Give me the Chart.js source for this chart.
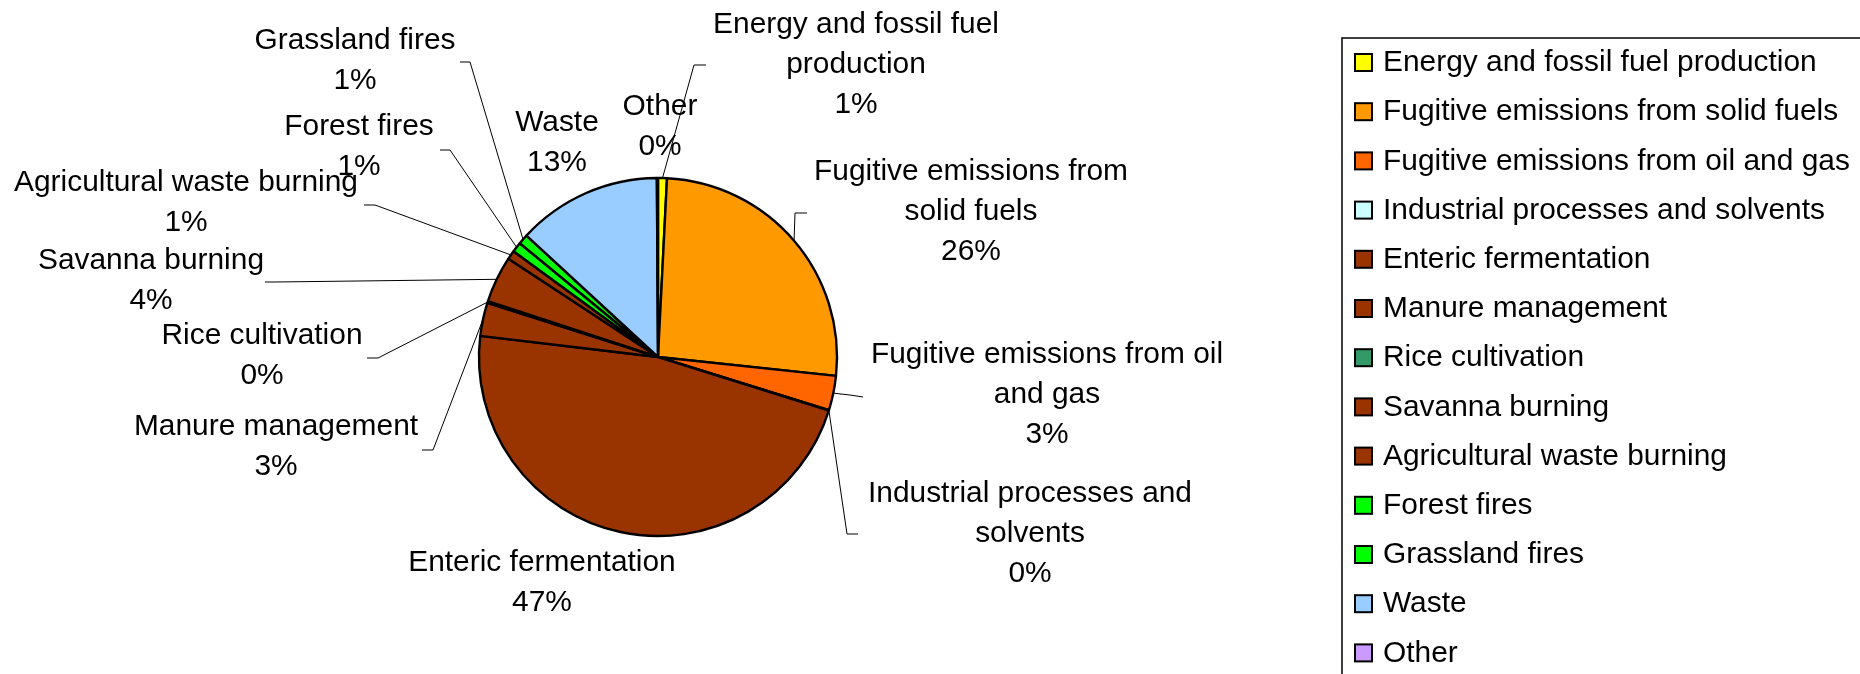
<!DOCTYPE html>
<html>
<head>
<meta charset="utf-8">
<script src="https://cdn.jsdelivr.net/npm/chart.js@4/dist/chart.umd.min.js"></script>
<style>
  html, body { margin: 0; padding: 0; background: #ffffff; }
  #wrap { width: 1860px; height: 674px; position: relative; }
</style>
</head>
<body>
<div id="wrap"><canvas id="c" width="1860" height="674"></canvas></div>
<script>
// ---- data ----
const categories = [
  "Energy and fossil fuel production",
  "Fugitive emissions from solid fuels",
  "Fugitive emissions from oil and gas",
  "Industrial processes and solvents",
  "Enteric fermentation",
  "Manure management",
  "Rice cultivation",
  "Savanna burning",
  "Agricultural waste burning",
  "Forest fires",
  "Grassland fires",
  "Waste",
  "Other"
];
const shares = [0.8, 25.8, 3.1, 0.05, 46.9, 3.0, 0.15, 4.2, 0.8, 0.9, 0.9, 13.0, 0.1];
const sliceColors = [
  "#FFFF00", "#FF9900", "#FF6600", "#CCFFFF", "#993300", "#993300", "#339966",
  "#993300", "#993300", "#00FF00", "#00FF00", "#99CCFF", "#CC99FF"
];

// ---- label layout (offsets from pie centre, px) ----
const labelOffsets = [
  [198, -292], [313, -145], [389, 38], [372, 177], [-116, 226], [-382, 90],
  [-396, -1], [-507, -76], [-472, -154], [-299, -210], [-303, -296], [-101, -214], [2, -230]
];
const labelWrap = [300, 330, 370, 340, 9999, 9999, 9999, 9999, 9999, 9999, 9999, 9999, 9999];
const leaderPaths = [
  [[36, -292], [48, -292]],
  [[137, -144], [149, -144]],
  [[192, 38], [205, 40]],
  [[189, 177], [200, 177]],
  null,
  [[-225, 93], [-236, 93]],
  [[-280, 1], [-291, 1]],
  [[-383, -75], [-393, -75]],
  [[-283, -152], [-294, -152]],
  [[-208, -207], [-218, -207]],
  [[-188, -295], [-198, -295]],
  null,
  null
];

const FONT = '"Liberation Sans", Arial, sans-serif';
const FS = 29.9;
const LINE_H = 40;

function wrapText(ctx, text, maxW) {
  const words = text.split(' ');
  const lines = [];
  let cur = '';
  for (const w of words) {
    const t = cur ? cur + ' ' + w : w;
    if (ctx.measureText(t).width > maxW && cur) { lines.push(cur); cur = w; }
    else cur = t;
  }
  if (cur) lines.push(cur);
  return lines;
}

const labelPlugin = {
  id: 'pieLabels',
  afterDatasetsDraw(chart) {
    const ctx = chart.ctx;
    const meta = chart.getDatasetMeta(0);
    const vals = chart.data.datasets[0].data;
    const total = vals.reduce((a, b) => a + b, 0);
    ctx.save();
    ctx.font = FS + 'px ' + FONT;
    meta.data.forEach((arc, i) => {
      const p = arc.getProps(['x', 'y', 'startAngle', 'endAngle', 'outerRadius'], true);
      const mid = (p.startAngle + p.endAngle) / 2;
      const path = leaderPaths[i];
      if (path) {
        ctx.beginPath();
        ctx.strokeStyle = '#000';
        ctx.lineWidth = 1;
        ctx.moveTo(p.x + Math.cos(mid) * p.outerRadius, p.y + Math.sin(mid) * p.outerRadius);
        path.forEach(pt => ctx.lineTo(p.x + pt[0], p.y + pt[1]));
        ctx.stroke();
      }
    });
    meta.data.forEach((arc, i) => {
      const p = arc.getProps(['x', 'y'], true);
      const lines = wrapText(ctx, chart.data.labels[i], labelWrap[i]);
      lines.push(Math.round(vals[i] / total * 100) + '%');
      const cx = p.x + labelOffsets[i][0];
      const cy = p.y + labelOffsets[i][1];
      const top = cy - (lines.length - 1) * LINE_H / 2;
      ctx.fillStyle = '#000';
      ctx.textAlign = 'center';
      ctx.textBaseline = 'middle';
      lines.forEach((ln, k) => ctx.fillText(ln, cx, top + k * LINE_H));
    });
    ctx.restore();
  }
};

const legendPlugin = {
  id: 'boxLegend',
  afterDraw(chart) {
    const ctx = chart.ctx;
    const ds = chart.data.datasets[0];
    const x0 = 1342, y0 = 38;
    ctx.save();
    ctx.strokeStyle = '#000';
    ctx.lineWidth = 1.5;
    ctx.beginPath();
    ctx.moveTo(1900, y0);
    ctx.lineTo(x0, y0);
    ctx.lineTo(x0, 700);
    ctx.stroke();
    ctx.font = FS + 'px ' + FONT;
    ctx.textAlign = 'left';
    ctx.textBaseline = 'middle';
    chart.data.labels.forEach((lab, i) => {
      const cy = 62 + i * 49.2;
      ctx.fillStyle = ds.backgroundColor[i];
      ctx.fillRect(1355, cy - 8, 17, 17);
      ctx.lineWidth = 2;
      ctx.strokeStyle = '#000';
      ctx.strokeRect(1355, cy - 8, 17, 17);
      ctx.fillStyle = '#000';
      ctx.fillText(lab, 1383, cy + 1);
    });
    ctx.restore();
  }
};

new Chart(document.getElementById('c'), {
  type: 'pie',
  data: {
    labels: categories,
    datasets: [{
      data: shares,
      backgroundColor: sliceColors,
      borderColor: '#000000',
      borderWidth: 2.4,
      radius: 179
    }]
  },
  options: {
    responsive: false,
    devicePixelRatio: 1,
    animation: false,
    events: [],
    layout: { padding: { left: 0, right: 544, top: 40, bottom: 0 } },
    plugins: { legend: { display: false }, tooltip: { enabled: false }, title: { display: false } }
  },
  plugins: [labelPlugin, legendPlugin]
});
</script>
</body>
</html>
